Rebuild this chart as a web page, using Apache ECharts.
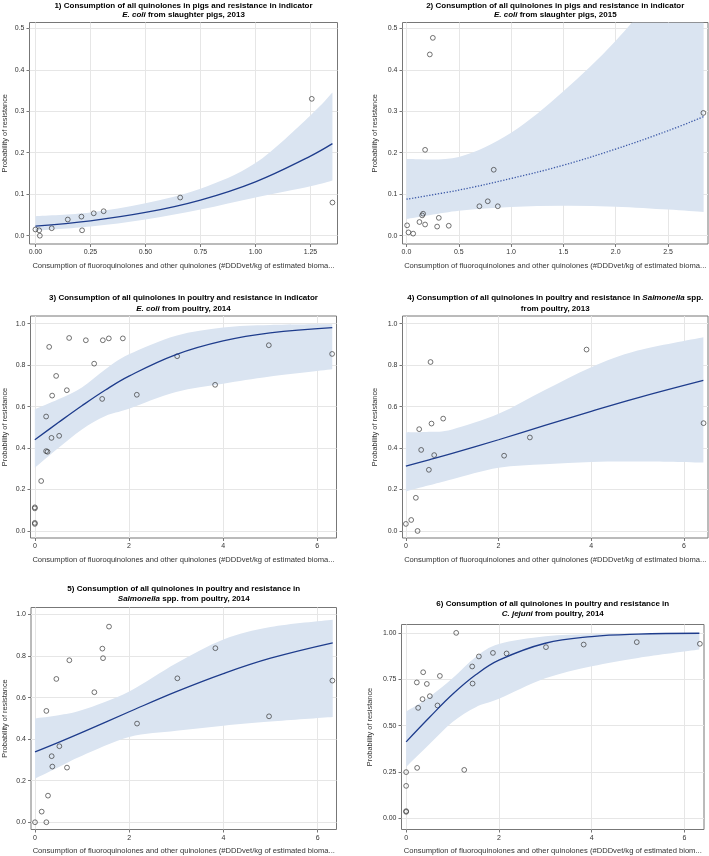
<!DOCTYPE html>
<html><head><meta charset="utf-8">
<script src="https://cdn.jsdelivr.net/npm/echarts@6/dist/echarts.min.js"></script>
<style>html,body{margin:0;padding:0;background:#fff}#c{width:709px;height:856px}</style>
</head><body><div id="c"></div>
<script>
// ---------- Panel 1: pigs, E. coli 2013 ----------
const p1XTicks = [0, 0.25, 0.5, 0.75, 1.0, 1.25];
const p1YTicks = [0, 0.1, 0.2, 0.3, 0.4, 0.5];
const p1PtsX = [0.00, 0.017, 0.020, 0.074, 0.147, 0.209, 0.212, 0.265, 0.310, 0.658, 1.256, 1.350];
const p1PtsY = [0.015, 0.013, 0.000, 0.018, 0.039, 0.046, 0.013, 0.054, 0.059, 0.092, 0.330, 0.080];
const p1CurveX = [0, 0.25, 0.5, 0.75, 1.0, 1.25, 1.35];
const p1Fit   = [0.023, 0.036, 0.056, 0.086, 0.130, 0.192, 0.222];
const p1Upper = [0.047, 0.056, 0.078, 0.113, 0.175, 0.290, 0.345];
const p1Lower = [0.012, 0.022, 0.039, 0.063, 0.092, 0.119, 0.133];

// ---------- Panel 2: pigs, E. coli 2015 ----------
const p2XTicks = [0, 0.5, 1.0, 1.5, 2.0, 2.5];
const p2YTicks = [0, 0.1, 0.2, 0.3, 0.4, 0.5];
const p2PtsX = [0.006, 0.019, 0.064, 0.124, 0.150, 0.159, 0.178, 0.178, 0.223, 0.252, 0.293, 0.309, 0.404, 0.697, 0.777, 0.834, 0.873, 2.838];
const p2PtsY = [0.025, 0.008, 0.005, 0.033, 0.049, 0.053, 0.027, 0.207, 0.437, 0.477, 0.022, 0.043, 0.024, 0.071, 0.083, 0.159, 0.071, 0.296];
const p2CurveX = [0, 0.5, 1.0, 1.5, 2.0, 2.5, 2.84];
const p2Fit   = [0.088, 0.110, 0.138, 0.170, 0.209, 0.253, 0.287];
const p2Upper = [0.185, 0.190, 0.248, 0.348, 0.470, 0.620, 0.730];
const p2Lower = [0.040, 0.060, 0.069, 0.072, 0.070, 0.063, 0.057];

// ---------- Panel 3: poultry, E. coli 2014 ----------
const p3XTicks = [0, 2, 4, 6];
const p3YTicks = [0, 0.2, 0.4, 0.6, 0.8, 1.0];
const p3PtsX = [0, 0, 0, 0, 0.135, 0.24, 0.24, 0.27, 0.305, 0.354, 0.368, 0.453, 0.517, 0.680, 0.729, 1.084, 1.261, 1.431, 1.445, 1.572, 1.870, 2.167, 3.024, 3.831, 4.972, 6.317];
const p3PtsY = [0.114, 0.109, 0.039, 0.034, 0.241, 0.552, 0.385, 0.382, 0.888, 0.449, 0.653, 0.748, 0.459, 0.679, 0.931, 0.920, 0.807, 0.637, 0.920, 0.929, 0.929, 0.657, 0.843, 0.705, 0.896, 0.854];
const p3CurveX = [0, 0.5, 1, 1.5, 2, 3, 4, 5, 6.32];
const p3Fit   = [0.440, 0.523, 0.604, 0.680, 0.747, 0.851, 0.917, 0.956, 0.981];
const p3Upper = [0.587, 0.635, 0.692, 0.780, 0.852, 0.942, 0.982, 0.994, 0.997];
const p3Lower = [0.305, 0.400, 0.490, 0.555, 0.590, 0.670, 0.710, 0.745, 0.780];

// ---------- Panel 4: poultry, Salmonella 2013 ----------
const p4XTicks = [0, 2, 4, 6];
const p4YTicks = [0, 0.2, 0.4, 0.6, 0.8, 1.0];
const p4PtsX = [0, 0.115, 0.215, 0.252, 0.287, 0.330, 0.496, 0.532, 0.553, 0.611, 0.805, 2.12, 2.676, 3.899, 6.424];
const p4PtsY = [0.034, 0.053, 0.160, 0.0, 0.491, 0.391, 0.295, 0.815, 0.518, 0.366, 0.542, 0.363, 0.451, 0.875, 0.520];
const p4CurveX = [0, 0.5, 1, 2, 3, 4, 5, 6.42];
const p4Fit   = [0.313, 0.343, 0.374, 0.440, 0.509, 0.577, 0.642, 0.726];
const p4Upper = [0.475, 0.478, 0.490, 0.565, 0.680, 0.790, 0.870, 0.935];
const p4Lower = [0.190, 0.220, 0.250, 0.305, 0.322, 0.333, 0.335, 0.330];

// ---------- Panel 5: poultry, Salmonella 2014 ----------
const p5XTicks = [0, 2, 4, 6];
const p5YTicks = [0, 0.2, 0.4, 0.6, 0.8, 1.0];
const p5PtsX = [0, 0.142, 0.241, 0.241, 0.276, 0.354, 0.368, 0.453, 0.517, 0.679, 0.729, 1.260, 1.430, 1.444, 1.571, 2.166, 3.022, 3.829, 4.968, 6.313];
const p5PtsY = [0, 0.051, 0.0, 0.536, 0.128, 0.318, 0.268, 0.690, 0.366, 0.263, 0.780, 0.626, 0.836, 0.790, 0.942, 0.475, 0.693, 0.838, 0.510, 0.682];
const p5CurveX = [0, 0.5, 1, 2, 3, 4, 5, 6.32];
const p5Fit   = [0.339, 0.385, 0.433, 0.532, 0.629, 0.716, 0.790, 0.864];
const p5Upper = [0.500, 0.515, 0.540, 0.630, 0.765, 0.880, 0.940, 0.975];
const p5Lower = [0.210, 0.265, 0.320, 0.410, 0.440, 0.465, 0.485, 0.507];

// ---------- Panel 6: poultry, C. jejuni 2014 ----------
const p6XTicks = [0, 2, 4, 6];
const p6YTicks = [0, 0.25, 0.5, 0.75, 1.0];
const p6PtsX = [0, 0, 0, 0, 0.23, 0.237, 0.259, 0.353, 0.367, 0.446, 0.511, 0.676, 0.727, 1.079, 1.252, 1.424, 1.432, 1.568, 1.871, 2.165, 3.014, 3.827, 4.971, 6.331];
const p6PtsY = [0.250, 0.176, 0.040, 0.036, 0.733, 0.273, 0.596, 0.643, 0.788, 0.725, 0.659, 0.609, 0.768, 1.0, 0.262, 0.819, 0.727, 0.873, 0.892, 0.889, 0.923, 0.937, 0.950, 0.941];
const p6CurveX = [0, 0.5, 1, 1.5, 2, 3, 4, 5, 6.32];
const p6Fit   = [0.413, 0.544, 0.669, 0.774, 0.853, 0.944, 0.980, 0.993, 0.998];
const p6Upper = [0.576, 0.655, 0.755, 0.870, 0.940, 0.982, 0.993, 0.997, 0.999];
const p6Lower = [0.278, 0.400, 0.520, 0.600, 0.645, 0.755, 0.820, 0.865, 0.910];

const titleLine1 = [
  '{b|1) Consumption of all quinolones in pigs and resistance in indicator}',
  '{b|2) Consumption of all quinolones in pigs and resistance in indicator}',
  '{b|3) Consumption of all quinolones in poultry and resistance in indicator}',
  '{b|4) Consumption of all quinolones in poultry and resistance in }{bi|Salmonella}{b| spp.}',
  '{b|5) Consumption of all quinolones in poultry and resistance in}',
  '{b|6) Consumption of all quinolones in poultry and resistance in}'
];
const titleLine2 = [
  '{bi|E. coli}{b| from slaughter pigs, 2013}',
  '{bi|E. coli}{b| from slaughter pigs, 2015}',
  '{bi|E. coli}{b| from poultry, 2014}',
  '{b|from poultry, 2013}',
  '{bi|Salmonella}{b| spp. from poultry, 2014}',
  '{bi|C. jejuni}{b| from poultry, 2014}'
];
const yName = 'Probability of resistance';
const xName = 'Consumption of fluoroquinolones and other quinolones (#DDDvet/kg of estimated bioma...';
const xName6 = 'Consumption of fluoroquinolones and other quinolones (#DDDvet/kg of estimated biom...';

const FONT = '"Liberation Sans", Arial, Helvetica, sans-serif';
const BAND = '#dae4f1';
const LINE = '#1e3c8c';
const FRAME = '#777777';
const GRIDC = '#e6e6e6';

const panels = [
  {g:{left:29.5, top:22.5, width:308, height:221.5}, x:[-0.027,1.373], y:[-0.020,0.514], xd:2, yd:1, xt:p1XTicks, yt:p1YTicks, px:p1PtsX, py:p1PtsY, cx:p1CurveX, fit:p1Fit, up:p1Upper, lo:p1Lower, tTop:1, tLH:9.5, yGap:21, dotted:false, xn:xName},
  {g:{left:402.5, top:22.5, width:305.5, height:221.5}, x:[-0.038,2.882], y:[-0.020,0.514], xd:1, yd:1, xt:p2XTicks, yt:p2YTicks, px:p2PtsX, py:p2PtsY, cx:p2CurveX, fit:p2Fit, up:p2Upper, lo:p2Lower, tTop:1, tLH:9.5, yGap:24, dotted:true, xn:xName},
  {g:{left:30.5, top:316, width:306, height:222}, x:[-0.092,6.41], y:[-0.034,1.037], xd:0, yd:1, xt:p3XTicks, yt:p3YTicks, px:p3PtsX, py:p3PtsY, cx:p3CurveX, fit:p3Fit, up:p3Upper, lo:p3Lower, tTop:291.8, tLH:11, yGap:22.5, dotted:false, xn:xName},
  {g:{left:402.5, top:316, width:305.5, height:222}, x:[-0.073,6.52], y:[-0.034,1.037], xd:0, yd:1, xt:p4XTicks, yt:p4YTicks, px:p4PtsX, py:p4PtsY, cx:p4CurveX, fit:p4Fit, up:p4Upper, lo:p4Lower, tTop:291.8, tLH:11, yGap:24, dotted:false, xn:xName},
  {g:{left:31, top:607.5, width:305.5, height:222}, x:[-0.085,6.40], y:[-0.035,1.034], xd:0, yd:1, xt:p5XTicks, yt:p5YTicks, px:p5PtsX, py:p5PtsY, cx:p5CurveX, fit:p5Fit, up:p5Upper, lo:p5Lower, tTop:583.8, tLH:10.3, yGap:23, dotted:false, xn:xName},
  {g:{left:401.5, top:624.5, width:302.5, height:205}, x:[-0.10,6.42], y:[-0.059,1.045], xd:0, yd:2, xt:p6XTicks, yt:p6YTicks, px:p6PtsX, py:p6PtsY, cx:p6CurveX, fit:p6Fit, up:p6Upper, lo:p6Lower, tTop:599, tLH:10, yGap:28, dotted:false, xn:xName6}
];

function crPath(pts) {
  let s = '';
  for (let i = 0; i < pts.length - 1; i++) {
    const p0 = pts[i - 1] || pts[i], p1 = pts[i], p2 = pts[i + 1], p3 = pts[i + 2] || pts[i + 1];
    const c1 = [p1[0] + (p2[0] - p0[0]) / 6, p1[1] + (p2[1] - p0[1]) / 6];
    const c2 = [p2[0] - (p3[0] - p1[0]) / 6, p2[1] - (p3[1] - p1[1]) / 6];
    s += ' C' + c1[0].toFixed(2) + ' ' + c1[1].toFixed(2) + ' ' + c2[0].toFixed(2) + ' ' + c2[1].toFixed(2) + ' ' + p2[0].toFixed(2) + ' ' + p2[1].toFixed(2);
  }
  return s;
}

const richBase = {fontFamily: FONT, fontSize: 8, fontWeight: 'bold', color: '#000'};
const option = {
  backgroundColor: '#fff',
  animation: false,
  title: panels.map((p, i) => ({
    text: titleLine1[i] + '\n' + titleLine2[i],
    left: p.g.left + p.g.width / 2,
    top: p.tTop,
    textAlign: 'center',
    padding: 0,
    textStyle: {
      rich: {
        b: Object.assign({lineHeight: p.tLH}, richBase),
        bi: Object.assign({lineHeight: p.tLH, fontStyle: 'italic'}, richBase)
      }
    }
  })),
  grid: panels.map(p => Object.assign({show: true, borderColor: FRAME, borderWidth: 1, backgroundColor: 'transparent', containLabel: false}, p.g)),
  xAxis: panels.map((p, i) => ({
    gridIndex: i, type: 'value', min: p.x[0], max: p.x[1],
    axisLine: {show: false, onZero: false},
    axisTick: {show: true, length: 3, customValues: p.xt, lineStyle: {color: FRAME}},
    axisLabel: {customValues: p.xt, formatter: v => Number(v).toFixed(p.xd), fontSize: 7, color: '#333', margin: 5, fontFamily: FONT},
    splitLine: {show: true, lineStyle: {color: GRIDC, width: 1}},
    name: p.xn, nameLocation: 'middle', nameGap: 17.5,
    nameTextStyle: {fontSize: 7.6, color: '#333', fontFamily: FONT}
  })),
  yAxis: panels.map((p, i) => ({
    gridIndex: i, type: 'value', min: p.y[0], max: p.y[1],
    axisLine: {show: false, onZero: false},
    axisTick: {show: true, length: 3, customValues: p.yt, lineStyle: {color: FRAME}},
    axisLabel: {customValues: p.yt, formatter: v => Number(v).toFixed(p.yd), fontSize: 7, color: '#333', margin: 5, fontFamily: FONT},
    splitLine: {show: true, lineStyle: {color: GRIDC, width: 1}},
    name: yName, nameLocation: 'middle', nameGap: p.yGap,
    nameTextStyle: {fontSize: 7.4, color: '#333', fontFamily: FONT}
  })),
  series: []
};

panels.forEach((p, i) => {
  option.series.push({
    type: 'custom', xAxisIndex: i, yAxisIndex: i, clip: true, silent: true,
    data: [[p.cx[0], p.fit[0]]],
    renderItem: (params, api) => {
      if (params.dataIndex !== 0) return null;
      const up = p.cx.map((x, k) => api.coord([x, p.up[k]]));
      const lo = p.cx.map((x, k) => api.coord([x, p.lo[k]])).reverse();
      const d = 'M' + up[0][0].toFixed(2) + ' ' + up[0][1].toFixed(2) + crPath(up) +
        ' L' + lo[0][0].toFixed(2) + ' ' + lo[0][1].toFixed(2) + crPath(lo) + ' Z';
      const cs = params.coordSys;
      return {
        type: 'path', shape: {pathData: d}, style: {fill: BAND, stroke: null},
        clipPath: {type: 'rect', shape: {x: cs.x, y: cs.y, width: cs.width, height: cs.height}}
      };
    }
  });
  option.series.push({
    type: 'line', xAxisIndex: i, yAxisIndex: i, smooth: 0.4, showSymbol: false, symbol: 'none', silent: true,
    data: p.cx.map((x, k) => [x, p.fit[k]]),
    lineStyle: p.dotted ? {color: '#3d5aa8', width: 1.3, type: [1.3, 1.6]} : {color: LINE, width: 1.3}
  });
  option.series.push({
    type: 'scatter', xAxisIndex: i, yAxisIndex: i, symbol: 'circle', symbolSize: 4.8, silent: true,
    data: p.px.map((x, k) => [x, p.py[k]]),
    itemStyle: {color: 'rgba(255,255,255,0)', borderColor: '#333333', borderWidth: 0.85}
  });
});

const chart = echarts.init(document.getElementById('c'), null, {renderer: 'canvas'});
chart.setOption(option);
</script>
</body></html>
